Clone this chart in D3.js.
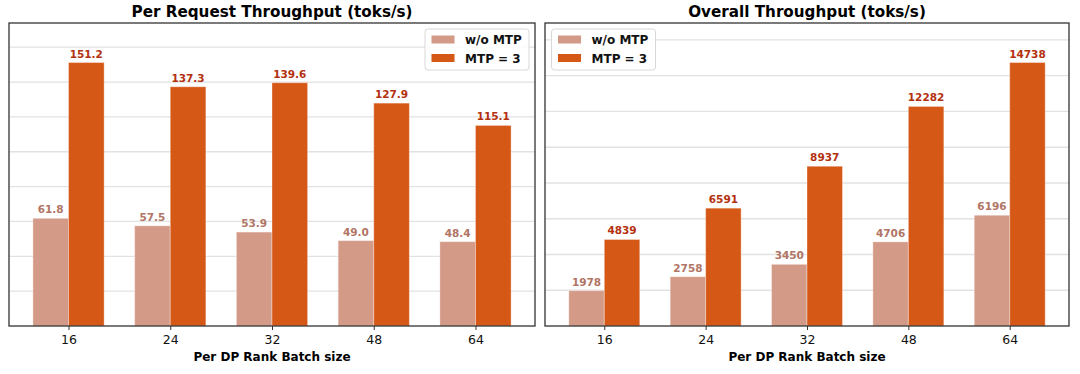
<!DOCTYPE html>
<html>
<head>
<meta charset="utf-8">
<script src="https://cdn.jsdelivr.net/npm/d3@7"></script>
<style>
  body { margin: 0; background: #fff; }
  svg { display: block; font-family: "DejaVu Sans", sans-serif; }
</style>
</head>
<body>
<svg id="chart" width="1080" height="374"></svg>
<script>
// data
const batchSizes = ['16', '24', '32', '48', '64'];
const seriesNames = ['w/o MTP', 'MTP = 3'];
const perRequestNoMtp = [61.8, 57.5, 53.9, 49.0, 48.4];
const perRequestMtp = [151.2, 137.3, 139.6, 127.9, 115.1];
const overallNoMtp = [1978, 2758, 3450, 4706, 6196];
const overallMtp = [4839, 6591, 8937, 12282, 14738];

const barColors = ['#d49a88', '#d55816'];
const labelColors = ['#b07565', '#b3300f'];

const svg = d3.select('#chart');

function drawPanel(opts) {
    const left = opts.left, right = opts.right, top = 23, bottom = 326;
    const g = svg.append('g');

    const x = d3.scaleLinear()
        .domain([-0.585, batchSizes.length - 1 + 0.585])
        .range([left, right]);
    const y = d3.scaleLinear()
        .domain([0, d3.max(opts.series[1]) * 1.15])
        .range([bottom, top]);
    const barW = 0.35;

    // grid
    g.append('g')
        .selectAll('line')
        .data(y.ticks(10).filter(d => d > 0))
        .join('line')
        .attr('x1', left).attr('x2', right)
        .attr('y1', d => y(d)).attr('y2', d => y(d))
        .style('stroke', '#e2e2e2')
        .style('stroke-width', 1.3);

    // bars
    opts.series.forEach(function (vals, si) {
        const off = si == 0 ? -barW / 2 : barW / 2;
        g.append('g')
            .selectAll('rect')
            .data(vals)
            .join('rect')
            .attr('x', (d, i) => x(i + off - barW / 2))
            .attr('y', d => y(d))
            .attr('width', x(barW) - x(0))
            .attr('height', d => bottom - y(d))
            .style('fill', barColors[si])
            .style('stroke', 'rgba(255,255,255,0.35)')
            .style('stroke-width', 1);

        g.append('g')
            .selectAll('text')
            .data(vals)
            .join('text')
            .attr('x', (d, i) => x(i + off))
            .attr('y', d => y(d) - 5)
            .attr('text-anchor', 'middle')
            .style('font-size', '10.5px')
            .style('font-weight', 'bold')
            .style('fill', labelColors[si])
            .text(d => opts.fmt(d));
    });

    // axes frame
    g.append('rect')
        .attr('x', left).attr('y', top)
        .attr('width', right - left).attr('height', bottom - top)
        .style('fill', 'none')
        .style('stroke', '#333')
        .style('stroke-width', 1.3);

    // x ticks
    const xAxis = d3.axisBottom(x)
        .tickValues(d3.range(batchSizes.length))
        .tickFormat(i => batchSizes[i])
        .tickSize(4)
        .tickPadding(5);
    const ax = g.append('g')
        .attr('transform', 'translate(0,' + bottom + ')')
        .call(xAxis);
    ax.select('.domain').remove();
    ax.selectAll('line').style('stroke', '#333');
    ax.selectAll('text')
        .style('font-family', '"DejaVu Sans", sans-serif')
        .style('font-size', '12.5px')
        .style('fill', '#111');

    g.append('text')
        .attr('x', (left + right) / 2)
        .attr('y', 361)
        .attr('text-anchor', 'middle')
        .style('font-size', '12px')
        .style('font-weight', 'bold')
        .text('Per DP Rank Batch size');

    g.append('text')
        .attr('x', (left + right) / 2)
        .attr('y', 17)
        .attr('text-anchor', 'middle')
        .style('font-size', '15.2px')
        .style('font-weight', 'bold')
        .text(opts.title);

    // legend
    const lx = opts.legendX, ly = 29;
    const lg = g.append('g').attr('transform', 'translate(' + lx + ',' + ly + ')');
    lg.append('rect')
        .attr('width', 104).attr('height', 41)
        .attr('rx', 3)
        .style('fill', 'rgba(255,255,255,0.85)')
        .style('stroke', '#d8d8d8');
    seriesNames.forEach(function (name, si) {
        lg.append('rect')
            .attr('x', 6.5).attr('y', 6.5 + si * 18.5)
            .attr('width', 23).attr('height', 8)
            .style('fill', barColors[si]);
        lg.append('text')
            .attr('x', 40).attr('y', 15 + si * 18.5)
            .style('font-size', '12px')
            .style('font-weight', 'bold')
            .style('fill', '#111')
            .text(name);
    });
}

drawPanel({
    left: 9, right: 535,
    title: 'Per Request Throughput (toks/s)',
    series: [perRequestNoMtp, perRequestMtp],
    fmt: d => d.toFixed(1),
    legendX: 425
});

drawPanel({
    left: 545, right: 1069,
    title: 'Overall Throughput (toks/s)',
    series: [overallNoMtp, overallMtp],
    fmt: d => String(d),
    legendX: 551.5
});
</script>
</body>
</html>
